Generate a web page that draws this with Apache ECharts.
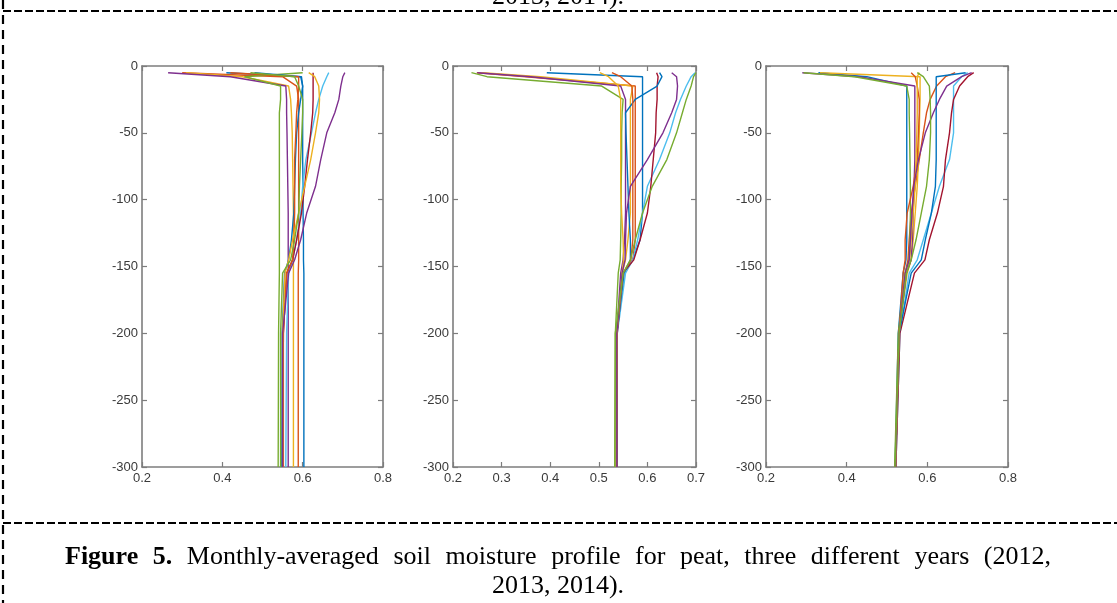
<!DOCTYPE html>
<html>
<head>
<meta charset="utf-8">
<script src="https://cdn.jsdelivr.net/npm/echarts@6/dist/echarts.min.js"></script>
<style>
html,body{margin:0;padding:0;background:#fff;}
#chart{width:1117px;height:603px;}
</style>
</head>
<body>
<div id="chart"></div>
<script>
// Depth nodes (cm) shared by all profiles
var depths = [-5, -8, -15, -25, -35, -50, -70, -90, -110, -130, -145, -155, -200, -300];

// Panel 1 (2012): 12 monthly profiles, soil moisture at each depth node
var y2012 = [
  [0.41, 0.597, 0.600, 0.600, 0.600, 0.600, 0.600, 0.601, 0.601, 0.602, 0.602, 0.603, 0.603, 0.603],
  [0.30, 0.55, 0.585, 0.59, 0.59, 0.59, 0.59, 0.59, 0.59, 0.59, 0.59, 0.589, 0.589, 0.589],
  [0.31, 0.45, 0.565, 0.57, 0.572, 0.574, 0.575, 0.576, 0.577, 0.577, 0.577, 0.577, 0.577, 0.577],
  [0.265, 0.42, 0.558, 0.56, 0.56, 0.561, 0.562, 0.563, 0.564, 0.564, 0.564, 0.564, 0.564, 0.564],
  [0.60, 0.455, 0.545, 0.545, 0.542, 0.542, 0.542, 0.542, 0.542, 0.542, 0.542, 0.542, 0.54, 0.539],
  [0.665, 0.66, 0.65, 0.64, 0.632, 0.622, 0.608, 0.60, 0.595, 0.585, 0.575, 0.565, 0.56, 0.558],
  [0.626, 0.626, 0.626, 0.626, 0.625, 0.62, 0.612, 0.605, 0.597, 0.585, 0.575, 0.56, 0.552, 0.55],
  [0.48, 0.595, 0.60, 0.595, 0.59, 0.585, 0.582, 0.58, 0.578, 0.572, 0.565, 0.555, 0.549, 0.548],
  [0.42, 0.59, 0.59, 0.588, 0.585, 0.583, 0.58, 0.58, 0.58, 0.578, 0.575, 0.56, 0.552, 0.552],
  [0.615, 0.63, 0.64, 0.642, 0.64, 0.632, 0.62, 0.605, 0.59, 0.575, 0.565, 0.556, 0.55, 0.55],
  [0.705, 0.70, 0.695, 0.69, 0.68, 0.66, 0.645, 0.632, 0.61, 0.595, 0.58, 0.565, 0.55, 0.55],
  [0.47, 0.58, 0.59, 0.60, 0.60, 0.598, 0.595, 0.592, 0.59, 0.58, 0.57, 0.55, 0.545, 0.545]
];

// Panel 2 (2013)
var y2013 = [
  [0.393, 0.59, 0.59, 0.59, 0.59, 0.59, 0.59, 0.59, 0.59, 0.585, 0.57, 0.55, 0.537, 0.537],
  [0.249, 0.35, 0.575, 0.575, 0.575, 0.575, 0.575, 0.575, 0.575, 0.575, 0.57, 0.55, 0.537, 0.537],
  [0.26, 0.38, 0.57, 0.565, 0.565, 0.565, 0.565, 0.565, 0.565, 0.56, 0.555, 0.548, 0.537, 0.536],
  [0.25, 0.36, 0.545, 0.555, 0.555, 0.555, 0.555, 0.555, 0.555, 0.553, 0.55, 0.545, 0.537, 0.536],
  [0.238, 0.27, 0.506, 0.55, 0.548, 0.547, 0.547, 0.546, 0.546, 0.545, 0.544, 0.54, 0.534, 0.533],
  [0.698, 0.69, 0.68, 0.668, 0.658, 0.646, 0.625, 0.60, 0.59, 0.58, 0.57, 0.555, 0.538, 0.538],
  [0.619, 0.622, 0.62, 0.62, 0.618, 0.617, 0.612, 0.607, 0.60, 0.585, 0.572, 0.55, 0.538, 0.537],
  [0.625, 0.63, 0.62, 0.575, 0.555, 0.556, 0.558, 0.56, 0.562, 0.565, 0.565, 0.552, 0.537, 0.537],
  [0.527, 0.545, 0.568, 0.57, 0.57, 0.57, 0.57, 0.57, 0.57, 0.57, 0.566, 0.55, 0.537, 0.537],
  [0.502, 0.52, 0.54, 0.545, 0.545, 0.545, 0.545, 0.545, 0.547, 0.55, 0.551, 0.548, 0.537, 0.536],
  [0.65, 0.66, 0.662, 0.66, 0.65, 0.632, 0.60, 0.565, 0.557, 0.555, 0.554, 0.548, 0.537, 0.537],
  [0.70, 0.695, 0.69, 0.68, 0.672, 0.66, 0.64, 0.61, 0.59, 0.575, 0.565, 0.55, 0.534, 0.533]
];

// Panel 3 (2014)
var y2014 = [
  [0.33, 0.45, 0.549, 0.549, 0.549, 0.549, 0.549, 0.549, 0.549, 0.549, 0.547, 0.54, 0.528, 0.52],
  [0.669, 0.645, 0.623, 0.607, 0.598, 0.59, 0.58, 0.57, 0.56, 0.555, 0.552, 0.545, 0.53, 0.521],
  [0.334, 0.582, 0.582, 0.582, 0.581, 0.58, 0.578, 0.575, 0.57, 0.565, 0.56, 0.55, 0.53, 0.521],
  [0.29, 0.43, 0.569, 0.569, 0.569, 0.569, 0.569, 0.567, 0.565, 0.563, 0.56, 0.548, 0.53, 0.521],
  [0.293, 0.42, 0.549, 0.555, 0.555, 0.556, 0.557, 0.558, 0.558, 0.557, 0.555, 0.545, 0.528, 0.519],
  [0.70, 0.685, 0.665, 0.665, 0.665, 0.665, 0.655, 0.63, 0.61, 0.59, 0.575, 0.555, 0.532, 0.522],
  [0.715, 0.70, 0.68, 0.665, 0.66, 0.655, 0.645, 0.64, 0.625, 0.605, 0.594, 0.568, 0.532, 0.522],
  [0.695, 0.622, 0.622, 0.622, 0.622, 0.622, 0.622, 0.62, 0.61, 0.595, 0.585, 0.56, 0.53, 0.521],
  [0.56, 0.57, 0.575, 0.58, 0.58, 0.578, 0.575, 0.565, 0.55, 0.545, 0.545, 0.54, 0.53, 0.521],
  [0.58, 0.575, 0.575, 0.575, 0.575, 0.574, 0.572, 0.57, 0.565, 0.56, 0.556, 0.545, 0.53, 0.521],
  [0.71, 0.685, 0.648, 0.63, 0.615, 0.595, 0.578, 0.566, 0.562, 0.558, 0.555, 0.545, 0.53, 0.521],
  [0.575, 0.59, 0.605, 0.607, 0.608, 0.608, 0.605, 0.598, 0.585, 0.572, 0.56, 0.548, 0.53, 0.52]
];

// Axis ranges / tick steps
var xRanges = [[0.2, 0.8, 0.2], [0.2, 0.7, 0.1], [0.2, 0.8, 0.2]];
var yRange = [-300, 0, 50];

var captionBold = 'Figure 5.';
var captionLine1 = 'Monthly-averaged soil moisture profile for peat, three different years (2012,';
var captionLine2 = '2013, 2014).';

var colors = ['#0072BD', '#D95319', '#EDB120', '#7E2F8E', '#77AC30', '#4DBEEE', '#A2142F'];

var grids = [
  {left: 142, top: 66, width: 241, height: 401},
  {left: 453, top: 66, width: 243, height: 401},
  {left: 766, top: 66, width: 242, height: 401}
];

var axisCol = '#7d7d7d';
var labelStyle = {color: '#3a3a3a', fontSize: 13, fontFamily: 'Liberation Sans, Arial, sans-serif'};

var xAxes = [], yAxes = [], series = [];
var panels = [y2012, y2013, y2014];
grids.forEach(function (g, i) {
  g.containLabel = false;
  var xr = xRanges[i];
  ['bottom', 'top'].forEach(function (pos) {
    xAxes.push({
      type: 'value', gridIndex: i, position: pos, min: xr[0], max: xr[1], interval: xr[2],
      axisLine: {show: true, onZero: false, lineStyle: {color: axisCol, width: 1.6}},
      axisTick: {show: true, inside: true, length: 5, lineStyle: {color: axisCol, width: 1.2}},
      axisLabel: pos === 'bottom' ? Object.assign({show: true, margin: 5, formatter: function (v) { return (+v).toFixed(1); }}, labelStyle) : {show: false},
      splitLine: {show: false}
    });
  });
  ['left', 'right'].forEach(function (pos) {
    yAxes.push({
      type: 'value', gridIndex: i, position: pos, min: yRange[0], max: yRange[1], interval: yRange[2],
      axisLine: {show: true, onZero: false, lineStyle: {color: axisCol, width: 1.6}},
      axisTick: {show: true, inside: true, length: 5, lineStyle: {color: axisCol, width: 1.2}},
      axisLabel: pos === 'left' ? Object.assign({show: true, margin: 4}, labelStyle) : {show: false},
      splitLine: {show: false}
    });
  });
  panels[i].forEach(function (vals, k) {
    series.push({
      type: 'line', xAxisIndex: i * 2, yAxisIndex: i * 2,
      data: vals.map(function (v, j) { return [v, depths[j]]; }),
      showSymbol: false, symbol: 'none', smooth: false, clip: true,
      lineStyle: {width: 1.4, color: colors[k % 7]},
      itemStyle: {color: colors[k % 7]},
      z: 2 + k
    });
  });
});

// Caption: first line justified between capLeft and capRight, second line centred
var serif = '"Liberation Serif", "Times New Roman", serif';
var capFs = 26, capLeft = 65, capRight = 1051, capY1 = 557, capY2 = 586;
var mctx = document.createElement('canvas').getContext('2d');
function measure(t, bold) { mctx.font = (bold ? 'bold ' : '') + capFs + 'px ' + serif; return mctx.measureText(t).width; }
var words = captionBold.split(' ').map(function (w) { return {t: w, b: true}; })
  .concat(captionLine1.split(' ').map(function (w) { return {t: w, b: false}; }));
var totalW = 0;
words.forEach(function (w) { w.w = measure(w.t, w.b); totalW += w.w; });
var gap = (capRight - capLeft - totalW) / (words.length - 1);
var graphic = [];
var cx = capLeft;
words.forEach(function (w) {
  graphic.push({type: 'text', x: cx, y: capY1, style: {text: w.t, font: (w.b ? 'bold ' : '') + capFs + 'px ' + serif, fill: '#000', textAlign: 'left', textVerticalAlign: 'middle'}});
  cx += w.w + gap;
});
graphic.push({type: 'text', x: 558, y: capY2, style: {text: captionLine2, font: capFs + 'px ' + serif, fill: '#000', textAlign: 'center', textVerticalAlign: 'middle'}});
graphic.push({type: 'text', x: 558, y: -3, style: {text: captionLine2, font: capFs + 'px ' + serif, fill: '#000', textAlign: 'center', textVerticalAlign: 'middle'}});
graphic.push({type: 'line', shape: {x1: 3, y1: 11, x2: 1117, y2: 11}, style: {stroke: '#000', lineWidth: 2.2, lineDash: [8, 3]}});
graphic.push({type: 'line', shape: {x1: 3, y1: 523, x2: 1117, y2: 523}, style: {stroke: '#000', lineWidth: 2.2, lineDash: [8, 3]}});
graphic.push({type: 'line', shape: {x1: 3, y1: 0, x2: 3, y2: 603}, style: {stroke: '#000', lineWidth: 2.2, lineDash: [9, 6]}});

var chart = echarts.init(document.getElementById('chart'), null, {renderer: 'canvas'});
chart.setOption({
  animation: false,
  backgroundColor: '#fff',
  grid: grids,
  xAxis: xAxes,
  yAxis: yAxes,
  series: series,
  graphic: graphic
});
</script>
</body>
</html>
